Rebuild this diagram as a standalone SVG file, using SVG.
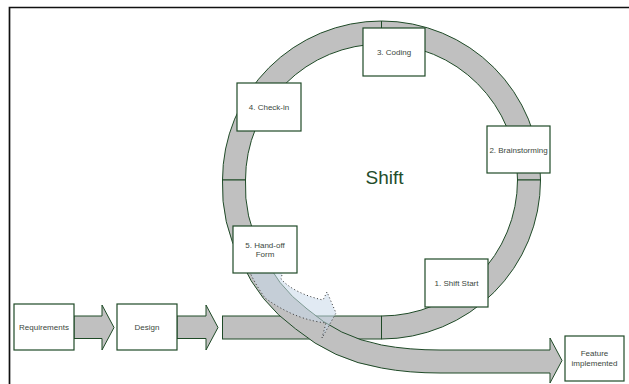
<svg xmlns="http://www.w3.org/2000/svg" width="629" height="384" viewBox="0 0 629 384">
<style>
.seg{fill:#c0c0c0;stroke:#1f4a27;stroke-width:1}
.box{fill:#ffffff;stroke:#1f4a27;stroke-width:1.2}
.lbl{font-family:"Liberation Sans",Arial,sans-serif;font-size:8px;fill:#3b473d;text-anchor:middle}
.title{font-family:"Liberation Sans",Arial,sans-serif;font-size:19px;fill:#1f4d2a;text-anchor:middle}
</style>
<rect x="0" y="0" width="629" height="384" fill="#ffffff"/>
<path d="M9.5,384 V7.5 H629" fill="none" stroke="#111111" stroke-width="1.7"/>
<g id="connectors">
  <path id="ring-top-left" class="seg" d="M222.5,180 A159,159 0 0 1 381.5,21 L381.5,44 A136,136 0 0 0 245.5,180 Z"/>
  <path id="ring-top-right" class="seg" d="M381.5,21 A159,159 0 0 1 540.5,180 L517.5,180 A136,136 0 0 0 381.5,44 Z"/>
  <path id="ring-bottom-right" class="seg" d="M540.5,180 A159,159 0 0 1 381.5,339 L381.5,316 A136,136 0 0 0 517.5,180 Z"/>
  <path id="arrow-req-design" class="seg" d="M74,316 H102 V305 L114,327.5 L102,350 V338.5 H74 Z"/>
  <path id="arrow-design-shift" class="seg" d="M177,316 H206 V305 L218,327.5 L206,350 V338.5 H177 Z"/>
  <rect id="bar-into-shift" class="seg" x="222.5" y="316" width="159" height="23"/>
  <path id="spiral-out" class="seg" d="M222.5,180 A160,160 0 0 0 241,261.1 A166,166 0 0 0 295.6,328.9 A180,180 0 0 0 381.5,368 C400,371.5 420,373 440,373 L550,373 L550,383 L562,360.5 L550,338 L550,350 L440,350 C420,350 400,348.5 381.5,345 A157,157 0 0 1 307,308.9 A143,143 0 0 1 261,249.6 A137,137 0 0 1 245.5,180 Z"/>
  <path id="handoff-highlight" d="M246,262 L285,262 L281,279 C290,289 305,296 323,300 L327,292 L336,313 L322,338 L326,323 C310,321 290,316 265,298 C258,288 250,275 246,262 Z" fill="#c8d8ea" fill-opacity="0.55" stroke="#333333" stroke-width="1" stroke-dasharray="1 2.5"/>
</g>
<g id="node-requirements"><rect class="box" x="14" y="304" width="60" height="46"/><text class="lbl" x="44" y="330">Requirements</text></g>
<g id="node-design"><rect class="box" x="117" y="304" width="60" height="46"/><text class="lbl" x="147" y="330">Design</text></g>
<g id="node-coding"><rect class="box" x="363" y="28" width="62" height="48"/><text class="lbl" x="394" y="55">3. Coding</text></g>
<g id="node-checkin"><rect class="box" x="237" y="83" width="64" height="48"/><text class="lbl" x="269" y="109.5">4. Check-in</text></g>
<g id="node-brainstorming"><rect class="box" x="487" y="126" width="63" height="47"/><text class="lbl" x="518.5" y="152.5">2. Brainstorming</text></g>
<g id="node-handoff"><rect class="box" x="233" y="226" width="64" height="47"/><text class="lbl" x="265" y="248">5. Hand-off</text><text class="lbl" x="265" y="256.5">Form</text></g>
<g id="node-shiftstart"><rect class="box" x="425" y="259" width="63" height="48"/><text class="lbl" x="456.5" y="285.5">1. Shift Start</text></g>
<g id="node-feature"><rect class="box" x="565" y="336" width="59" height="45"/><text class="lbl" x="594.5" y="356">Feature</text><text class="lbl" x="594.5" y="365.5">implemented</text></g>
<g id="node-shift"><text class="title" x="384.5" y="184">Shift</text></g>
</svg>
